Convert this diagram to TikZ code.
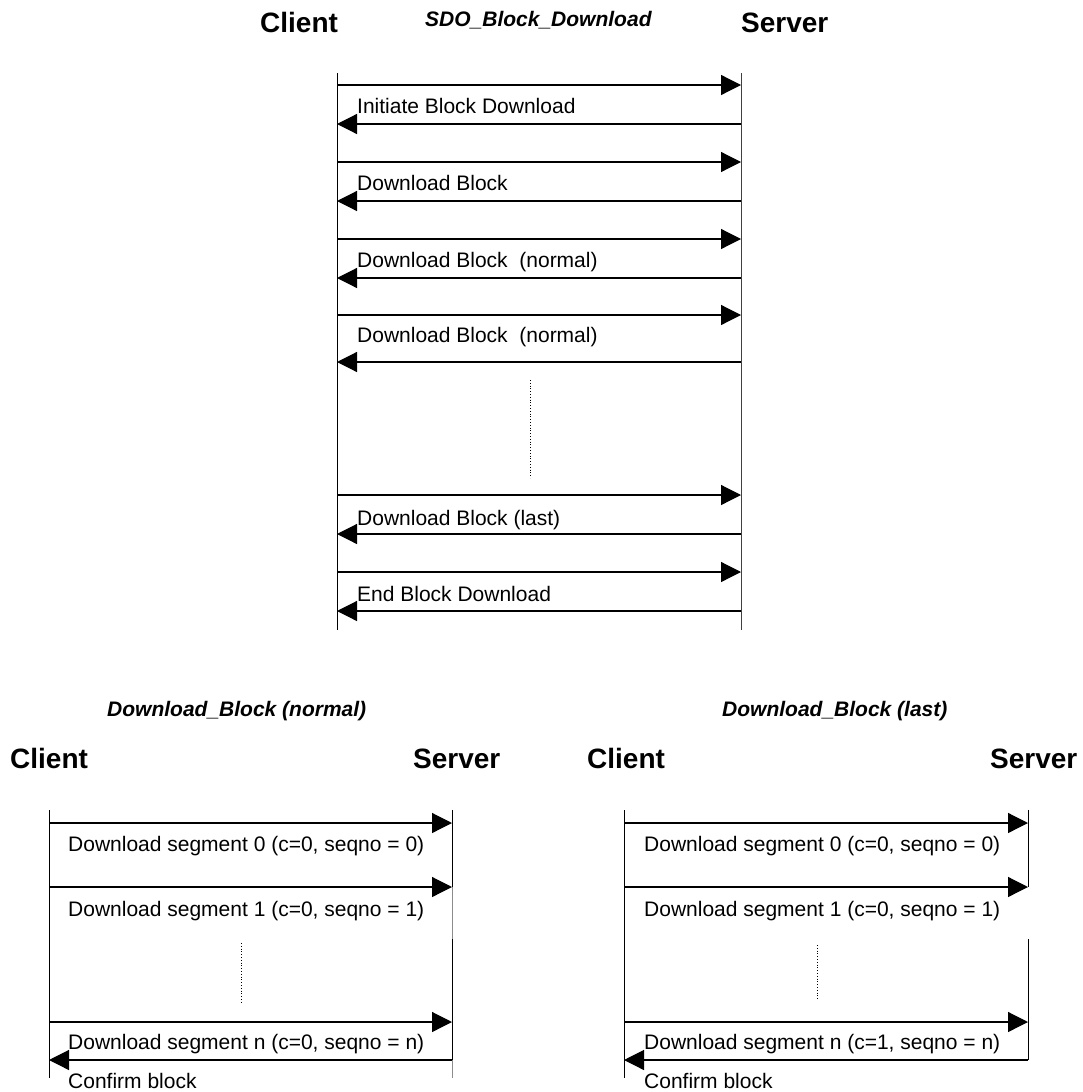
\documentclass[tikz,border=0pt]{standalone}
\usepackage{fontspec}
\setmainfont{Liberation Sans}
\usetikzlibrary{arrows.meta}
\tikzset{
msg/.style={line width=1.2pt,-{Triangle[length=20pt,width=20pt]}},
life/.style={line width=1pt},
grey/.style={line width=0.6pt,black!45},
lbl/.style={anchor=base west,inner sep=0pt,font=\fontsize{21}{25}\selectfont},
hd/.style={anchor=base west,inner sep=0pt,font=\fontsize{28}{32}\selectfont\bfseries},
ttl/.style={anchor=base west,inner sep=0pt,font=\fontsize{21}{25}\selectfont\bfseries\itshape},
dots/.style={dotted,line width=0.8pt}}

\begin{document}
\begin{tikzpicture}[x=1pt,y=-1pt]
\useasboundingbox (0,0) rectangle (1082,1092);

% SDO_Block_Download
\node[hd]  (cli) at (260,32) {Client};
\node[ttl] (sdo) at (425,26) {SDO\_Block\_Download};
\node[hd]  (srv) at (741,32) {Server};

\coordinate (cTop) at (337,73);  \coordinate (cBot) at (337,630);
\coordinate (sTop) at (741,73);  \coordinate (sBot) at (741,630);
\draw[life] (cTop) -- (cBot);
\draw[life,black!75] (sTop) -- (sBot);

\foreach \n/\ya/\yb in {1/85/124,2/162/201,3/239/278,4/315/362,5/495/534,6/572/611}{
  \coordinate (ca\n) at (337,\ya); \coordinate (sa\n) at (741,\ya);
  \coordinate (cb\n) at (337,\yb); \coordinate (sb\n) at (741,\yb);
  \draw[msg] (ca\n) -- (sa\n);
  \draw[msg] (sb\n) -- (cb\n);
}
\node[lbl] (m1) at (357,113) {Initiate Block Download};
\node[lbl] (m2) at (357,190) {Download Block};
\node[lbl] (m3) at (357,267) {Download Block\ \ (normal)};
\node[lbl] (m4) at (357,342) {Download Block\ \ (normal)};
\node[lbl] (m5) at (357,525) {Download Block (last)};
\node[lbl] (m6) at (357,601) {End Block Download};

\coordinate (dT1) at (530,380); \coordinate (dT2) at (530,478);
\draw[dots] (dT1) -- (dT2);

% Download_Block (normal)
\node[ttl] (nrm) at (107,716) {Download\_Block (normal)};
\node[hd]  (cliN) at (10,768) {Client};
\node[hd]  (srvN) at (413,768) {Server};

\coordinate (cNTop) at (49,810);  \coordinate (cNBot) at (49,1078);
\coordinate (sN1) at (452,810);   \coordinate (sN2) at (452,887);
\coordinate (sN3) at (452,939);   \coordinate (sN4) at (452,1060);
\coordinate (sN5) at (452,1078);
\draw[life] (cNTop) -- (cNBot);
\draw[life] (sN1) -- (sN2);
\draw[grey] (sN2) -- (sN3);
\draw[life] (sN3) -- (sN4);
\draw[grey] (sN4) -- (sN5);

% Download_Block (last)
\node[ttl] (lst) at (722,716) {Download\_Block (last)};
\node[hd]  (cliL) at (587,768) {Client};
\node[hd]  (srvL) at (990,768) {Server};

\coordinate (cLTop) at (624,810); \coordinate (cLBot) at (624,1078);
\coordinate (sL1) at (1028,810);  \coordinate (sL2) at (1028,887);
\coordinate (sL3) at (1028,939);  \coordinate (sL4) at (1028,1060);
\draw[life] (cLTop) -- (cLBot);
\draw[life] (sL1) -- (sL2);
\draw[life] (sL3) -- (sL4);

\foreach \p/\cx/\sx in {N/49/452,L/624/1028}{
  \foreach \n/\y in {1/823,2/887,3/1022}{
    \coordinate (c\p\n) at (\cx,\y); \coordinate (s\p\n x) at (\sx,\y);
    \draw[msg] (c\p\n) -- (s\p\n x);
  }
  \coordinate (c\p r) at (\cx,1060); \coordinate (s\p r) at (\sx,1060);
  \draw[msg] (s\p r) -- (c\p r);
}

\node[lbl] (n1) at (68,851)  {Download segment 0 (c=0, seqno = 0)};
\node[lbl] (n2) at (68,916)  {Download segment 1 (c=0, seqno = 1)};
\node[lbl] (n3) at (68,1049) {Download segment n (c=0, seqno = n)};
\node[lbl] (n4) at (68,1088) {Confirm block};
\coordinate (dN1) at (241,943); \coordinate (dN2) at (241,1003);
\draw[dots] (dN1) -- (dN2);

\node[lbl] (l1) at (644,851)  {Download segment 0 (c=0, seqno = 0)};
\node[lbl] (l2) at (644,916)  {Download segment 1 (c=0, seqno = 1)};
\node[lbl] (l3) at (644,1049) {Download segment n (c=1, seqno = n)};
\node[lbl] (l4) at (644,1088) {Confirm block};
\coordinate (dL1) at (817,945); \coordinate (dL2) at (817,1000);
\draw[dots] (dL1) -- (dL2);

\end{tikzpicture}
\end{document}
